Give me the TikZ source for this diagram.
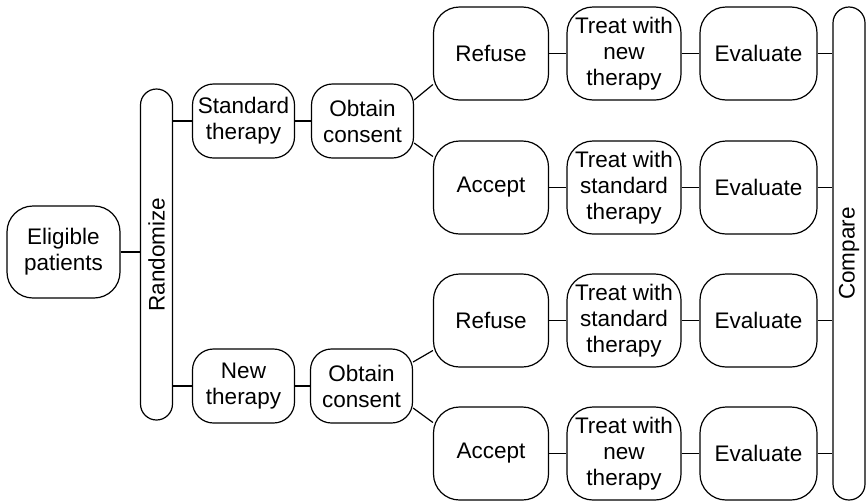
\documentclass[tikz,border=0pt]{standalone}
\usepackage{fontspec}
\setmainfont{Liberation Sans}
\begin{document}
\begin{tikzpicture}[x=1pt,y=-1pt,
  every path/.style={line width=1.2pt},
  box/.style={draw, line width=1.2pt, rounded corners=26pt, inner sep=0pt, align=center,
    font=\fontsize{22.5}{26}\selectfont, minimum width=115pt, minimum height=93pt},
  small/.style={box, rounded corners=21pt, minimum width=102pt, minimum height=74pt},
  bar/.style={draw, line width=1.2pt, rounded corners=16pt, inner sep=0pt,
    minimum width=32pt, font=\fontsize{22.5}{26}\selectfont}]
\useasboundingbox (0,0) rectangle (866,501);

% entry and randomisation
\node[box, minimum width=113pt, minimum height=92pt] (elig) at (63.5,252) {Eligible\\patients};
\node[bar, minimum height=331pt] (rand) at (156.5,254.5) {\rotatebox{90}{Randomize}};

% the two arms
\node[small] (std) at (243.5,121) {Standard\\therapy};
\node[small] (c1)  at (362.5,121) {Obtain\\consent};
\node[small] (new) at (243.5,386) {New\\therapy};
\node[small] (c2)  at (361.5,386) {Obtain\\consent};

% consent outcomes
\node[box] (r1) at (491,53.5)  {Refuse};
\node[box] (a1) at (491,187.5) {Accept};
\node[box] (r2) at (491,320.5) {Refuse};
\node[box] (a2) at (491,453.5) {Accept};

\node[box, minimum width=114pt] (t1) at (624,53.5)  {Treat with\\new\\therapy};
\node[box, minimum width=114pt] (t2) at (624,187.5) {Treat with\\standard\\therapy};
\node[box, minimum width=114pt] (t3) at (624,320.5) {Treat with\\standard\\therapy};
\node[box, minimum width=114pt] (t4) at (624,453.5) {Treat with\\new\\therapy};

\node[box, minimum width=117pt] (e1) at (758.5,53.5)  {Evaluate};
\node[box, minimum width=117pt] (e2) at (758.5,187.5) {Evaluate};
\node[box, minimum width=117pt] (e3) at (758.5,320.5) {Evaluate};
\node[box, minimum width=117pt] (e4) at (758.5,453.5) {Evaluate};

\node[bar, minimum height=493pt] (cmp) at (849,253.5) {\rotatebox{90}{Compare}};

% connectors
\draw (elig.east) -- (elig.east -| rand.west);
\draw (std.west -| rand.east) -- (std.west);
\draw (new.west -| rand.east) -- (new.west);
\draw (std) -- (c1);
\draw (new) -- (c2);

\draw ([yshift=21pt]c1.east)  -- ([yshift=-31pt]r1.west);
\draw ([yshift=-22pt]c1.east) -- ([yshift=31pt]a1.west);
\draw ([yshift=24pt]c2.east)  -- ([yshift=-30pt]r2.west);
\draw ([yshift=-22pt]c2.east) -- ([yshift=31pt]a2.west);

\foreach \i in {1,2,3,4}{
  \draw (t\i.west -| r1.east) -- (t\i.west);
  \draw (t\i) -- (e\i);
  \draw (e\i.east) -- (e\i.east -| cmp.west);
}
\end{tikzpicture}
\end{document}
